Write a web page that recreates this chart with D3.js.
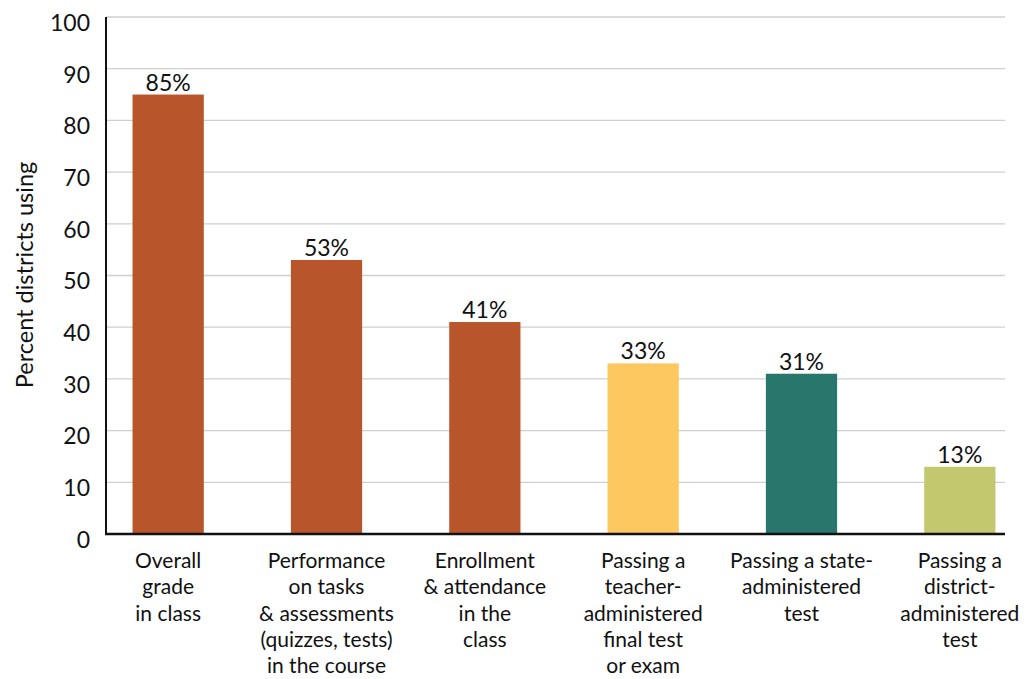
<!DOCTYPE html>
<html>
<head>
<meta charset="utf-8">
<script src="https://cdn.jsdelivr.net/npm/d3@7"></script>
<style>
  body { margin: 0; background: #fff; }
  svg { display: block; }
  text { font-family: "Century Gothic", Futura, Lato, "Noto Sans", sans-serif; fill: #111; }
</style>
</head>
<body>
<svg id="chart" width="1027" height="679"></svg>
<script>
// ---- data ----
const categories = [
  ["Overall", "grade", "in class"],
  ["Performance", "on tasks", "& assessments", "(quizzes, tests)", "in the course"],
  ["Enrollment", "& attendance", "in the", "class"],
  ["Passing a", "teacher-", "administered", "final test", "or exam"],
  ["Passing a state-", "administered", "test"],
  ["Passing a", "district-", "administered", "test"]
];
const values = [85, 53, 41, 33, 31, 13];
const valueLabels = ["85%", "53%", "41%", "33%", "31%", "13%"];
const barColors = ["#B9552A", "#B9552A", "#B9552A", "#FDC860", "#28766C", "#C3C86E"];
const yTicks = [0, 10, 20, 30, 40, 50, 60, 70, 80, 90, 100];
const yTitle = "Percent districts using";

// ---- layout ----
const svg = d3.select("#chart");
const axisX = 106, plotRight = 1005, yTop = 17, yBottom = 534;

const idx = categories.map((d, i) => i);
const x = d3.scaleBand().domain(idx).range([89, 1039]).paddingInner(0.55).paddingOuter(0.275);
const y = d3.scaleLinear().domain([0, 100]).range([yBottom, yTop]);

// gridlines
svg.append("g").selectAll("line").data(yTicks.filter(t => t > 0)).join("line")
  .attr("x1", axisX).attr("x2", plotRight)
  .attr("y1", d => y(d)).attr("y2", d => y(d))
  .attr("stroke", "#cfcfcf").attr("stroke-width", 1.3);

// y tick labels
svg.append("g").selectAll("text").data(yTicks).join("text")
  .attr("x", 90).attr("y", d => y(d) + 8)
  .attr("text-anchor", "end").attr("dominant-baseline", "middle")
  .style("font-size", "23px")
  .text(d => d);

// bars
svg.append("g").selectAll("rect").data(values).join("rect")
  .attr("x", (d, i) => x(i)).attr("width", x.bandwidth())
  .attr("y", d => y(d)).attr("height", d => y(0) - y(d))
  .attr("fill", (d, i) => barColors[i]);

// value labels
svg.append("g").selectAll("text").data(values).join("text")
  .attr("x", (d, i) => x(i) + x.bandwidth() / 2)
  .attr("y", d => y(d) - 4)
  .attr("text-anchor", "middle")
  .style("font-size", "23px")
  .text((d, i) => valueLabels[i]);

// axes lines
svg.append("line").attr("x1", axisX).attr("x2", axisX).attr("y1", yTop).attr("y2", yBottom + 1)
  .attr("stroke", "#111").attr("stroke-width", 2);
svg.append("line").attr("x1", axisX - 1).attr("x2", plotRight).attr("y1", yBottom).attr("y2", yBottom)
  .attr("stroke", "#111").attr("stroke-width", 2.5);

// category labels
const catG = svg.append("g").selectAll("text").data(categories).join("text")
  .attr("x", (d, i) => x(i) + x.bandwidth() / 2)
  .attr("y", 568)
  .attr("text-anchor", "middle")
  .style("font-size", "21px");
catG.selectAll("tspan").data(d => d).join("tspan")
  .attr("x", function() { return d3.select(this.parentNode).attr("x"); })
  .attr("dy", (d, j) => j === 0 ? 0 : 26.3)
  .text(d => d);

// y title
svg.append("text")
  .attr("transform", `translate(33, 275) rotate(-90)`)
  .attr("text-anchor", "middle")
  .style("font-size", "23.5px")
  .text(yTitle);
</script>
</body>
</html>
